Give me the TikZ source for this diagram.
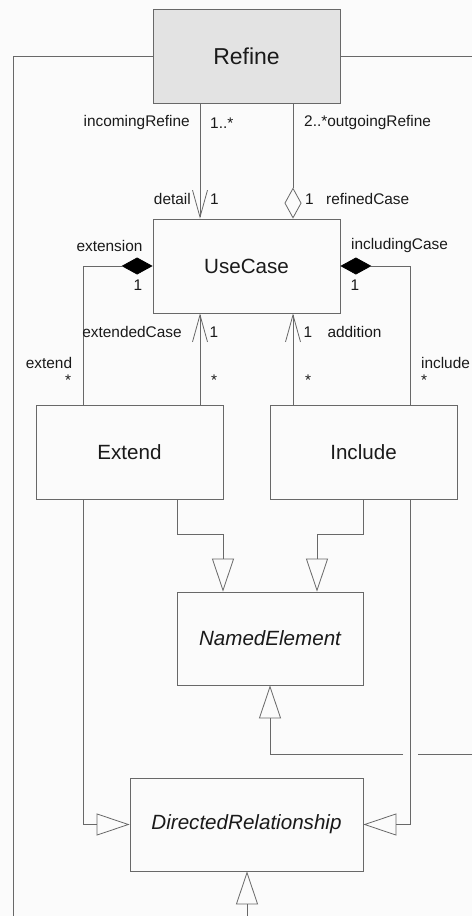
\documentclass[tikz,border=0pt]{standalone}
\usepackage{fontspec}
\setmainfont{Liberation Sans}
\usetikzlibrary{arrows.meta,calc}
\definecolor{ln}{HTML}{686868}
\definecolor{tx}{HTML}{1A1A1A}
\definecolor{bg}{HTML}{FBFBFB}
\definecolor{rf}{HTML}{E3E3E3}
\begin{document}
\begin{tikzpicture}[x=1pt,y=-1pt,
  cls/.style={draw=ln, line width=0.8pt, fill=bg, minimum width=187pt, minimum height=94pt, inner sep=0pt, text=tx, font=\fontsize{20.6}{24}\selectfont},
  lbl/.style={font=\fontsize{15.4}{18}\selectfont, text=tx, inner sep=0pt},
  con/.style={draw=ln, line width=0.8pt},
  vee/.style={-{Straight Barb[length=27pt,width=15pt]}},
  gen/.style={-{Triangle[open,length=33pt,width=22pt]}},
  odia/.style={-{Diamond[open,length=31pt,width=17pt]}},
  fdia/.style={-{Diamond[length=31pt,width=17pt,color=black]}}]
\useasboundingbox[fill=bg] (0,0) rectangle (472,916);

\node[cls, fill=rf, font=\fontsize{23}{27}\selectfont] (refine) at (246.5,56) {Refine};
\node[cls] (usecase) at (246.5,266) {UseCase};
\node[cls] (extend) at (129.5,452) {Extend};
\node[cls] (include) at (363.5,452) {Include};
\node[cls, minimum width=186pt, minimum height=93pt, font=\fontsize{20.6}{24}\selectfont\itshape] (named) at (270,638.5) {NamedElement};
\node[cls, minimum width=233pt, minimum height=93pt, font=\fontsize{20.6}{24}\selectfont\itshape] (dr) at (246.5,824.5) {DirectedRelationship};

\coordinate (lb) at (13,916);
\coordinate (re) at (472,56);
\coordinate (xa) at (200,0);
\coordinate (xb) at (293,0);
\coordinate (xl) at (83,0);
\coordinate (xr) at (410,0);
\coordinate (xe) at (177,0);
\coordinate (xn1) at (223,0);
\coordinate (xi) at (363,0);
\coordinate (xn2) at (317,0);
\coordinate (xm) at (270,0);
\coordinate (xd) at (247,0);
\coordinate (b1) at (177,534);
\coordinate (b2) at (363,534);
\coordinate (rin) at (472,754);
\coordinate (j1) at (418,754);
\coordinate (j2) at (403,754);
\coordinate (bot) at (247,916);

\draw[con] (refine.west) -| (lb);
\draw[con] (refine.east) -- (re);
\draw[con, vee] (refine.south -| xa) -- (usecase.north -| xa);
\draw[con, odia] (refine.south -| xb) -- (usecase.north -| xb);
\draw[con, fdia] (extend.north -| xl) |- (usecase.west);
\draw[con, fdia] (include.north -| xr) |- (usecase.east);
\draw[con, vee] (extend.north -| xa) -- (usecase.south -| xa);
\draw[con, vee] (include.north -| xb) -- (usecase.south -| xb);
\draw[con, gen] (extend.south -| xe) -- (b1) -| (named.north -| xn1);
\draw[con, gen] (include.south -| xi) -- (b2) -| (named.north -| xn2);
\draw[con, gen] (extend.south -| xl) |- (dr.west);
\draw[con, gen] (include.south -| xr) |- (dr.east);
\draw[con] (rin) -- (j1);
\draw[con, gen] (j2) -| (named.south -| xm);
\draw[con, gen] (bot) -- (dr.south -| xd);

\node[lbl, anchor=east] (l1) at (190,123) {incomingRefine};
\node[lbl, anchor=west] (l2) at (210,123) {1..*};
\node[lbl, anchor=west] (l3) at (304,123) {2..*outgoingRefine};
\node[lbl, anchor=east] (l4) at (191,199) {detail};
\node[lbl, anchor=west] (l5) at (210,199) {1};
\node[lbl, anchor=west] (l6) at (305,199) {1};
\node[lbl, anchor=west] (l7) at (326,199) {refinedCase};
\node[lbl] (l8) at (109.5,246) {extension};
\node[lbl] (l9) at (138,285) {1};
\node[lbl] (l10) at (399.5,246) {includingCase};
\node[lbl] (l11) at (355,285) {1};
\node[lbl] (l12) at (132,332) {extendedCase};
\node[lbl] (l13) at (214,332) {1};
\node[lbl] (l14) at (308,332) {1};
\node[lbl] (l15) at (354.5,332) {addition};
\node[lbl] (l16) at (49,363) {extend};
\node[lbl] (l17) at (68,380) {*};
\node[lbl] (l18) at (214,380) {*};
\node[lbl] (l19) at (308,380) {*};
\node[lbl] (l20) at (445.5,363) {include};
\node[lbl] (l21) at (424,380) {*};
\end{tikzpicture}
\end{document}
